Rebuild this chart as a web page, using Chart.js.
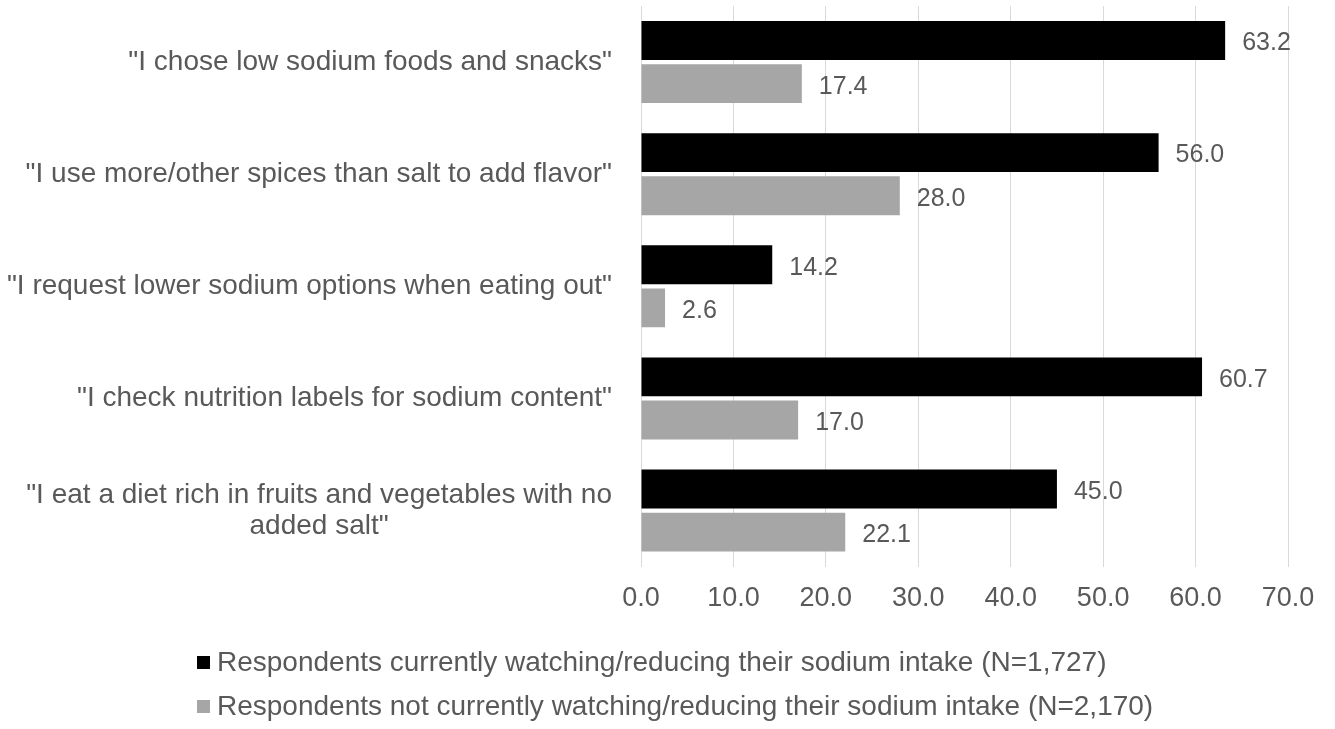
<!DOCTYPE html>
<html>
<head>
<meta charset="utf-8">
<script src="https://cdn.jsdelivr.net/npm/chart.js@4/dist/chart.umd.min.js"></script>
<style>
  html, body { margin: 0; padding: 0; background: #fff; }
  #wrap { position: relative; width: 1335px; height: 729px; }
  #legend { position: absolute; left: 197px; top: 640px; font-family: "Liberation Sans", Arial, sans-serif; font-size: 28px; color: #595959; }
  #legend div { height: 44px; display: flex; align-items: center; }
  #legend span.box { display: inline-block; width: 13px; height: 13px; margin-right: 7px; }
</style>
</head>
<body>
<div id="wrap">
  <canvas id="chart" width="1335" height="729"></canvas>
  <div id="legend"></div>
</div>
<script>
const categories = [
  '"I chose low sodium foods and snacks"',
  '"I use more/other spices than salt to add flavor"',
  '"I request lower sodium options when eating out"',
  '"I check nutrition labels for sodium content"',
  ['"I eat a diet rich in fruits and vegetables with no', 'added salt"']
];
const seriesNames = [
  'Respondents currently watching/reducing their sodium intake (N=1,727)',
  'Respondents not currently watching/reducing their sodium intake (N=2,170)'
];
const watching = [63.2, 56.0, 14.2, 60.7, 45.0];
const notWatching = [17.4, 28.0, 2.6, 17.0, 22.1];
const seriesColors = ['#000000', '#a6a6a6'];
const xMax = 70;
const xStep = 10;

const FONT = '"Liberation Sans", Arial, sans-serif';
const TEXT = '#595959';

// category labels: right-aligned block, lines centred within it
const categoryLabels = {
  id: 'categoryLabels',
  afterDraw(chart) {
    const ctx = chart.ctx;
    const y = chart.scales.y;
    const right = chart.chartArea.left - 29;
    ctx.save();
    ctx.font = '28px ' + FONT;
    ctx.fillStyle = TEXT;
    ctx.textAlign = 'center';
    ctx.textBaseline = 'middle';
    categories.forEach((lab, i) => {
      const lines = Array.isArray(lab) ? lab : [lab];
      const w = Math.max(...lines.map(l => ctx.measureText(l).width));
      const cy = y.getPixelForValue(i);
      const lh = 31;
      lines.forEach((l, j) => {
        ctx.fillText(l, right - w / 2, cy + (j - (lines.length - 1) / 2) * lh);
      });
    });
    ctx.restore();
  }
};

// value labels at bar ends
const valueLabels = {
  id: 'valueLabels',
  afterDatasetsDraw(chart) {
    const ctx = chart.ctx;
    ctx.save();
    ctx.font = '25px ' + FONT;
    ctx.fillStyle = TEXT;
    ctx.textAlign = 'left';
    ctx.textBaseline = 'middle';
    chart.data.datasets.forEach((ds, di) => {
      chart.getDatasetMeta(di).data.forEach((bar, i) => {
        ctx.fillText(ds.data[i].toFixed(1), bar.x + 17, bar.y + 3);
      });
    });
    ctx.restore();
  }
};

new Chart(document.getElementById('chart'), {
  type: 'bar',
  data: {
    labels: categories,
    datasets: [
      { label: seriesNames[0], data: watching, backgroundColor: seriesColors[0] },
      { label: seriesNames[1], data: notWatching, backgroundColor: seriesColors[1] }
    ]
  },
  options: {
    indexAxis: 'y',
    responsive: false,
    animation: false,
    categoryPercentage: 0.77,
    barPercentage: 0.9,
    layout: { padding: { top: 6, right: 47, bottom: 98, left: 0 } },
    plugins: { legend: { display: false }, tooltip: { enabled: false } },
    scales: {
      x: {
        min: 0,
        max: xMax,
        ticks: {
          stepSize: xStep,
          callback: v => v.toFixed(1),
          font: { family: FONT, size: 27 },
          color: TEXT,
          padding: 16
        },
        grid: { color: '#d9d9d9', drawTicks: false },
        border: { display: false }
      },
      y: {
        ticks: { display: false },
        grid: { display: false },
        border: { display: false },
        afterFit: s => { s.width = 641; }
      }
    }
  },
  plugins: [categoryLabels, valueLabels]
});

const legend = document.getElementById('legend');
seriesNames.forEach((n, i) => {
  const row = document.createElement('div');
  row.innerHTML = '<span class="box" style="background:' + seriesColors[i] + '"></span>' + n;
  legend.appendChild(row);
});
</script>
</body>
</html>
